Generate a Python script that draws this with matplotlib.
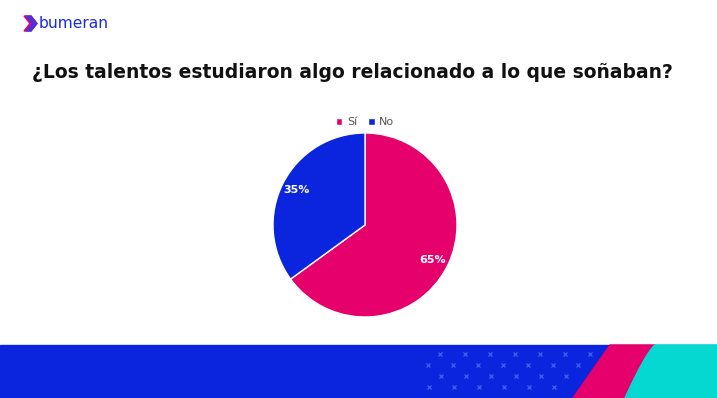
import numpy as np
import matplotlib.pyplot as plt
from matplotlib.patches import Polygon, Rectangle

labels = ['Sí', 'No']
values = [65, 35]
colors = ['#E5006B', '#0A25DD']
title = '¿Los talentos estudiaron algo relacionado a lo que soñaban?'

W, H = 717, 398
fig = plt.figure(figsize=(W / 100, H / 100), dpi=100)
fig.patch.set_facecolor('white')

# background layer in pixel coords
bg = fig.add_axes([0, 0, 1, 1])
bg.set_xlim(0, W)
bg.set_ylim(H, 0)
bg.axis('off')

# bottom banner
bg.add_patch(Rectangle((0, 345), W, 53, color='#0A25DD', zorder=1))
bg.add_patch(Polygon([[610, 345], [655, 345], [625, 398], [573, 398]], color='#E5006B', zorder=2))
yy = np.linspace(345, 398, 30)
xx = 655 - 30 * ((yy - 345) / 53) ** 0.8
bg.add_patch(Polygon(list(zip(xx, yy)) + [[W, 398], [W, 345]], color='#05D8D0', zorder=3))
for row, y in enumerate(np.arange(354, 398, 11)):
    for x in np.arange(440 - row * 12, 600, 25):
        if 420 < x < 605 - (y - 345) * 0.7:
            bg.plot(x, y, marker='x', ms=3.5, color='#3F5AEE', mew=1, zorder=2)

# logo
bg.add_patch(Polygon([[24, 16], [31, 16], [37, 23.5], [31, 31], [24, 31], [30, 23.5]], color='#E5006B', zorder=2))
bg.add_patch(Polygon([[26, 16], [31, 16], [37, 23.5], [31, 31], [26, 31], [32, 23.5]], color='#3A3AE8', zorder=3, alpha=0.8))
bg.text(39, 24, 'bumeran', fontsize=11.2, color='#1A2BD8', va='center', ha='left')

# title
fig.text(352 / W, 1 - 73 / H, title, fontsize=13.5, fontweight='bold',
         ha='center', va='center', color='#111111')

# pie
cx, cy, r = 365, 225, 92
ax = fig.add_axes([(cx - r) / W, (H - cy - r) / H, 2 * r / W, 2 * r / H])
wedges, texts, autotexts = ax.pie(values, colors=colors, startangle=90, counterclock=False,
                                  autopct='%d%%', pctdistance=0.83,
                                  wedgeprops=dict(edgecolor='white', linewidth=1),
                                  textprops=dict(color='white', fontsize=8, fontweight='bold'))
ax.set_xlim(-1, 1)
ax.set_ylim(-1, 1)
ax.set_aspect('equal')

fig.legend(wedges, labels, loc='center', bbox_to_anchor=(365 / W, 1 - 122 / H), ncol=2,
           frameon=False, fontsize=8, handlelength=0.6, handleheight=0.6,
           handletextpad=0.4, columnspacing=1.0, labelcolor='#555555')

fig.savefig('out.png', dpi=100)
